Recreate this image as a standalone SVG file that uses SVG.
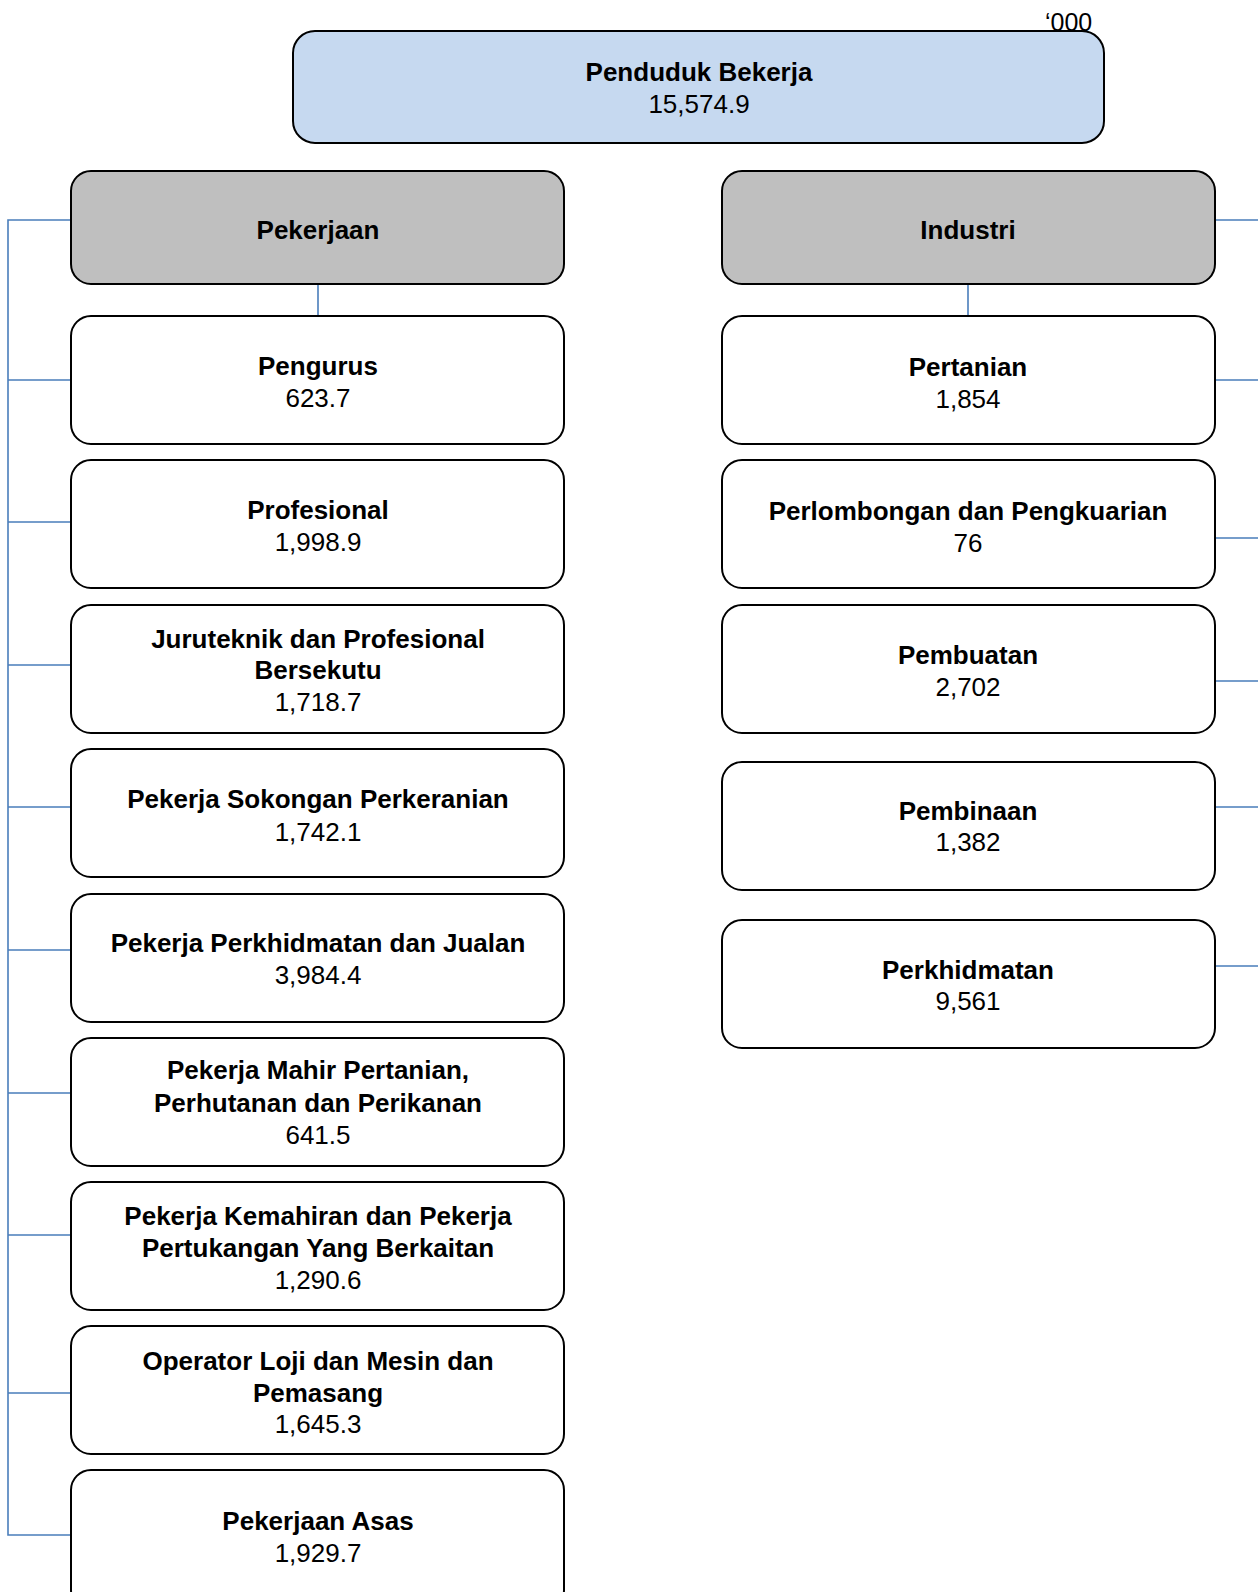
<svg xmlns="http://www.w3.org/2000/svg" width="1258" height="1592" viewBox="0 0 1258 1592">
<style>
.box{fill:#ffffff;stroke:#000;stroke-width:2}
.top{fill:#c6d9f0;stroke:#000;stroke-width:2}
.hdr{fill:#bfbfbf;stroke:#000;stroke-width:2}
.t{font-family:"Liberation Sans",Arial,sans-serif;font-size:26px;fill:#000;text-anchor:middle}
.b{font-weight:bold}
.c{fill:none;stroke:#4a7ebb;stroke-width:1.6}
</style>
<rect width="1258" height="1592" fill="#ffffff"/>
<text x="1045" y="31" style="font-family:'Liberation Sans',Arial,sans-serif;font-size:25px">‘000</text>
<g id="connectors">
<path class="c" d="M71 220H8V1535H71M8 380H71M8 522H71M8 665H71M8 807H71M8 950H71M8 1093H71M8 1235H71M8 1393H71"/>
<path class="c" d="M1215 220H1258M1215 380H1258M1215 538H1258M1215 681H1258M1215 807H1258M1215 966H1258"/>
<path class="c" d="M318 284V316M968 284V316"/>
</g>
<g id="penduduk"><rect class="top" x="293" y="31" width="811" height="112" rx="22"/><text class="t b" x="699" y="81">Penduduk Bekerja</text><text class="t" x="699" y="113">15,574.9</text></g>
<g id="pekerjaan"><rect class="hdr" x="71" y="171" width="493" height="113" rx="20"/><text class="t b" x="318" y="239">Pekerjaan</text></g>
<g id="industri"><rect class="hdr" x="722" y="171" width="493" height="113" rx="20"/><text class="t b" x="968" y="239">Industri</text></g>
<g id="pengurus"><rect class="box" x="71" y="316" width="493" height="128" rx="20"/><text class="t b" x="318" y="375">Pengurus</text><text class="t" x="318" y="407">623.7</text></g>
<g id="profesional"><rect class="box" x="71" y="460" width="493" height="128" rx="20"/><text class="t b" x="318" y="519">Profesional</text><text class="t" x="318" y="551">1,998.9</text></g>
<g id="juruteknik"><rect class="box" x="71" y="605" width="493" height="128" rx="20"/><text class="t b" x="318" y="648">Juruteknik dan Profesional</text><text class="t b" x="318" y="679">Bersekutu</text><text class="t" x="318" y="711">1,718.7</text></g>
<g id="sokongan"><rect class="box" x="71" y="749" width="493" height="128" rx="20"/><text class="t b" x="318" y="808">Pekerja Sokongan Perkeranian</text><text class="t" x="318" y="841">1,742.1</text></g>
<g id="perkhidmatan-jualan"><rect class="box" x="71" y="894" width="493" height="128" rx="20"/><text class="t b" x="318" y="952">Pekerja Perkhidmatan dan Jualan</text><text class="t" x="318" y="984">3,984.4</text></g>
<g id="mahir"><rect class="box" x="71" y="1038" width="493" height="128" rx="20"/><text class="t b" x="318" y="1079">Pekerja Mahir Pertanian,</text><text class="t b" x="318" y="1112">Perhutanan dan Perikanan</text><text class="t" x="318" y="1144">641.5</text></g>
<g id="kemahiran"><rect class="box" x="71" y="1182" width="493" height="128" rx="20"/><text class="t b" x="318" y="1225">Pekerja Kemahiran dan Pekerja</text><text class="t b" x="318" y="1257">Pertukangan Yang Berkaitan</text><text class="t" x="318" y="1289">1,290.6</text></g>
<g id="operator"><rect class="box" x="71" y="1326" width="493" height="128" rx="20"/><text class="t b" x="318" y="1370">Operator Loji dan Mesin dan</text><text class="t b" x="318" y="1402">Pemasang</text><text class="t" x="318" y="1433">1,645.3</text></g>
<g id="asas"><rect class="box" x="71" y="1470" width="493" height="140" rx="20"/><text class="t b" x="318" y="1530">Pekerjaan Asas</text><text class="t" x="318" y="1562">1,929.7</text></g>
<g id="pertanian"><rect class="box" x="722" y="316" width="493" height="128" rx="20"/><text class="t b" x="968" y="376">Pertanian</text><text class="t" x="968" y="408">1,854</text></g>
<g id="perlombongan"><rect class="box" x="722" y="460" width="493" height="128" rx="20"/><text class="t b" x="968" y="520">Perlombongan dan Pengkuarian</text><text class="t" x="968" y="552">76</text></g>
<g id="pembuatan"><rect class="box" x="722" y="605" width="493" height="128" rx="20"/><text class="t b" x="968" y="664">Pembuatan</text><text class="t" x="968" y="696">2,702</text></g>
<g id="pembinaan"><rect class="box" x="722" y="762" width="493" height="128" rx="20"/><text class="t b" x="968" y="820">Pembinaan</text><text class="t" x="968" y="851">1,382</text></g>
<g id="perkhidmatan"><rect class="box" x="722" y="920" width="493" height="128" rx="20"/><text class="t b" x="968" y="979">Perkhidmatan</text><text class="t" x="968" y="1010">9,561</text></g>
</svg>
